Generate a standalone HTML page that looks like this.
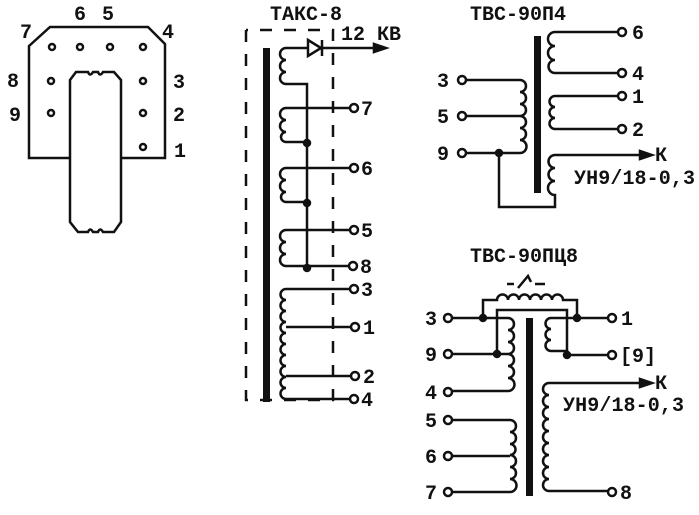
<!DOCTYPE html>
<html><head><meta charset="utf-8"><style>
html,body{margin:0;padding:0;background:#fff;}
svg{display:block}
text{font-family:"Liberation Mono","DejaVu Sans Mono",monospace;font-weight:bold;font-size:20px;fill:#111}
</style></head><body>
<svg width="699" height="515" viewBox="0 0 699 515" xmlns="http://www.w3.org/2000/svg" stroke="#111" fill="none" stroke-width="2.5">
<!-- Socket -->
<path d="M70 158 H29 V46 L50 27 H148 L165 44 V158 H121"/>
<path d="M70 80 L76 72 H88 Q90 77 93 72 H98 Q100 77 103 72 H114 L121 80 V222 L114 232 H103 Q100 227 98 232 H93 Q90 227 88 232 H78 L70 222 Z"/>
<g stroke-width="2.5">
<circle cx="52" cy="47" r="3"/><circle cx="80" cy="47" r="3"/><circle cx="110" cy="47" r="3"/><circle cx="143" cy="47" r="3"/>
<circle cx="51" cy="81" r="3"/><circle cx="143" cy="81" r="3"/>
<circle cx="51" cy="113" r="3"/><circle cx="143" cy="113" r="3"/>
<circle cx="143" cy="147" r="3"/>
</g>
<g stroke="none">
<text x="74" y="20">6</text><text x="102" y="20">5</text><text x="20" y="38">7</text><text x="162" y="38">4</text>
<text x="7" y="87">8</text><text x="173" y="88">3</text><text x="9" y="121">9</text><text x="173" y="121">2</text><text x="174" y="157">1</text>
</g>

<!-- TAKS-8 -->
<text x="270" y="20" stroke="none">ТАКС-8</text>
<path d="M246 30 V400 H333 V30 H246" stroke-dasharray="12 12" stroke-width="2.5"/>
<rect x="263" y="48" width="7" height="354" fill="#111" stroke="none"/>
<path d="M300 48 H286 a6 6 0 0 0 0 12 a6 6 0 0 0 0 12 a6 6 0 0 0 0 12 H307 V268"/>
<path d="M321 48 H382"/><path d="M386 48 l-12 -4 v8 z" fill="#111"/>
<path d="M308 40 L321 48 L308 56 Z M300 48 H308"/><path d="M322 40 V56"/>
<text x="341" y="40" stroke="none">12 КВ</text>
<path d="M350 108 H286 a6 6 0 0 0 0 12 a6 6 0 0 0 0 12 a5 5 0 0 0 0 10 H307"/>
<path d="M350 168 H286 a6 6 0 0 0 0 12 a6 6 0 0 0 0 12 a5 5 0 0 0 0 10 H307"/>
<path d="M350 230 H286 a6 6 0 0 0 0 12 a6 6 0 0 0 0 12 a6 6 0 0 0 0 12 H307 V266 H349"/>
<circle cx="307" cy="143" r="3" fill="#111"/><circle cx="307" cy="203" r="3" fill="#111"/><circle cx="307" cy="268" r="3" fill="#111"/>
<path d="M350 289 H286 a5.5 5.5 0 0 0 0 11 a5.5 5.5 0 0 0 0 11 a5.5 5.5 0 0 0 0 11 a5.5 5.5 0 0 0 0 11 a5.5 5.5 0 0 0 0 11 a5.5 5.5 0 0 0 0 11 a5.5 5.5 0 0 0 0 11 a5.5 5.5 0 0 0 0 11 a5.5 5.5 0 0 0 0 11 a5.5 5.5 0 0 0 0 11 H350"/>
<path d="M286 327 H350 M286 376 H350"/>
<g fill="#fff"><circle cx="354" cy="108" r="4"/><circle cx="354" cy="168" r="4"/><circle cx="354" cy="230" r="4"/><circle cx="353" cy="266" r="4"/>
<circle cx="354" cy="289" r="4"/><circle cx="355" cy="327" r="4"/><circle cx="355" cy="376" r="4"/><circle cx="354" cy="399" r="4"/></g>
<g stroke="none"><text x="361" y="115">7</text><text x="361" y="175">6</text><text x="361" y="237">5</text><text x="360" y="273">8</text>
<text x="361" y="296">3</text><text x="363" y="334">1</text><text x="363" y="383">2</text><text x="361" y="406">4</text></g>

<!-- TBC-90P4 -->
<text x="470" y="20" stroke="none">ТВС-90П4</text>
<rect x="534" y="36" width="7" height="157" fill="#111" stroke="none"/>
<path d="M618 32 H555 a7 7 0 0 0 0 14 a7 7 0 0 0 0 14 a6.5 6.5 0 0 0 0 13 H618"/>
<path d="M618 96 H555 a5.5 5.5 0 0 0 0 11 a5.5 5.5 0 0 0 0 11 a5.5 5.5 0 0 0 0 11 H618"/>
<path d="M648 155 H555 a6.5 6.5 0 0 0 0 13 a6.5 6.5 0 0 0 0 13 a7 7 0 0 0 0 14 V207 H499 V153"/>
<path d="M652 155 l-12 -4 v8 z" fill="#111"/>
<path d="M466 80 H520 a6 6 0 0 1 0 12 a6 6 0 0 1 0 12 a6 6 0 0 1 0 12 a6 6 0 0 1 0 12 a6 6 0 0 1 0 12 a6.5 6.5 0 0 1 0 13 H466"/>
<path d="M466 116 H520"/>
<circle cx="499" cy="153" r="3" fill="#111"/>
<g fill="#fff"><circle cx="622" cy="32" r="4"/><circle cx="622" cy="73" r="4"/><circle cx="622" cy="96" r="4"/><circle cx="622" cy="129" r="4"/>
<circle cx="462" cy="80" r="4"/><circle cx="462" cy="116" r="4"/><circle cx="462" cy="153" r="4"/></g>
<g stroke="none"><text x="632" y="39">6</text><text x="632" y="80">4</text><text x="632" y="103">1</text><text x="632" y="136">2</text>
<text x="437" y="87">3</text><text x="437" y="123">5</text><text x="437" y="160">9</text>
<text x="655" y="161">К</text><text x="574" y="184" textLength="121">УН9/18-0,3</text></g>

<!-- TBC-90PC8 -->
<text x="470" y="262" stroke="none">ТВС-90ПЦ8</text>
<path d="M507 284 H514 M518 288 L528 276 L531 282 M535 284 H545"/>
<path d="M483 318 V300 H497 a5.5 5.5 0 0 1 11 0 a5.5 5.5 0 0 1 11 0 a5.5 5.5 0 0 1 11 0 a5.5 5.5 0 0 1 11 0 a5.5 5.5 0 0 1 11 0 a5.5 5.5 0 0 1 11 0 H577 V318"/>
<path d="M497 354 V310 H567 V355"/>
<path d="M452 318 H508 a6 6 0 0 1 0 12 a6 6 0 0 1 0 12 a6 6 0 0 1 0 12 a6 6 0 0 1 0 12 a6 6 0 0 1 0 12 a6.5 6.5 0 0 1 0 13 H452"/>
<path d="M452 354 H508"/>
<path d="M608 318 H551 a5.5 5.5 0 0 0 0 11 a5.5 5.5 0 0 0 0 11 a5.5 5.5 0 0 0 0 11 H567 V355 H608"/>
<rect x="526" y="318" width="7" height="178" fill="#111" stroke="none"/>
<path d="M648 383 H549 a6 6 0 0 0 0 12 a6 6 0 0 0 0 12 a6 6 0 0 0 0 12 a6 6 0 0 0 0 12 a6 6 0 0 0 0 12 a6 6 0 0 0 0 12 a6 6 0 0 0 0 12 a6 6 0 0 0 0 12 a6 6 0 0 0 0 12 H608"/>
<path d="M652 383 l-12 -4 v8 z" fill="#111"/>
<path d="M452 420 H510 a6 6 0 0 1 0 12 a6 6 0 0 1 0 12 a5.5 5.5 0 0 1 0 11 a6 6 0 0 1 0 12 a6 6 0 0 1 0 12 a6.5 6.5 0 0 1 0 13 H452"/>
<path d="M452 456 H510"/>
<g fill="#111"><circle cx="483" cy="318" r="3"/><circle cx="577" cy="318" r="3"/><circle cx="497" cy="354" r="3"/><circle cx="567" cy="355" r="3"/></g>
<g fill="#fff"><circle cx="448" cy="318" r="4"/><circle cx="448" cy="354" r="4"/><circle cx="448" cy="392" r="4"/>
<circle cx="448" cy="420" r="4"/><circle cx="448" cy="456" r="4"/><circle cx="448" cy="492" r="4"/>
<circle cx="612" cy="318" r="4"/><circle cx="612" cy="355" r="4"/><circle cx="612" cy="492" r="4"/></g>
<g stroke="none"><text x="425" y="325">3</text><text x="425" y="361">9</text><text x="425" y="399">4</text>
<text x="425" y="427">5</text><text x="425" y="463">6</text><text x="425" y="499">7</text>
<text x="621" y="325">1</text><text x="620" y="362">[9]</text><text x="620" y="499">8</text>
<text x="655" y="389">К</text><text x="563" y="411" textLength="121">УН9/18-0,3</text></g>
</svg>
</body></html>
